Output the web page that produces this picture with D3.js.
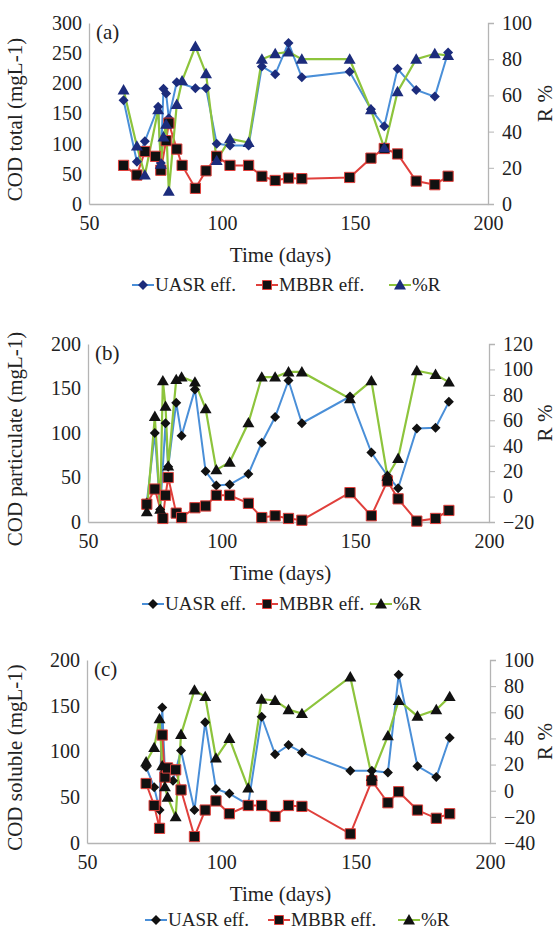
<!DOCTYPE html>
<html>
<head>
<meta charset="utf-8">
<script src="https://cdn.jsdelivr.net/npm/d3@7"></script>
<style>
  body { margin: 0; background: #fff; }
  svg text { font-family: 'Liberation Serif', 'Times New Roman', serif; fill: #222; }
</style>
</head>
<body>
<div id="chart"></div>
<script>
// panel (a) COD total
var aDaysU = [63, 68, 71, 76, 77, 78, 79, 80, 83, 90, 94, 98, 103, 110, 115, 120, 125, 130, 148, 156, 161, 166, 173, 180, 185];
var aUasr  = [172, 70, 104, 161, 68, 191, 183, 142, 202, 192, 192, 100, 97, 97, 228, 215, 267, 210, 219, 157, 129, 224, 189, 178, 251];
var aDaysM = [63, 68, 71, 75, 77, 79, 80, 83, 85, 90, 94, 98, 103, 110, 115, 120, 125, 130, 148, 156, 161, 166, 173, 180, 185];
var aMbbr  = [64, 48, 87, 79, 56, 105, 134, 91, 64, 26, 55, 79, 64, 64, 46, 39, 43, 42, 44, 76, 92, 83, 38, 32, 46];
var aDaysR = [63, 68, 71, 76, 77, 78, 79, 80, 83, 85, 90, 94, 98, 103, 110, 115, 120, 125, 130, 148, 156, 161, 166, 173, 180, 185];
var aR     = [63, 32, 16, 52, 22, 37, 44, 7, 55, 68, 87, 72, 24, 36, 34, 80, 83, 84, 80, 80, 52, 31, 62, 80, 83, 82];

// panel (b) COD particulate
var bDaysU = [72, 75, 77, 79, 80, 83, 85, 90, 94, 98, 103, 110, 115, 120, 125, 130, 148, 156, 162, 166, 173, 180, 185];
var bUasr  = [22, 100, 14, 111, 62, 134, 97, 149, 57, 41, 42, 54, 89, 118, 159, 111, 141, 78, 52, 38, 105, 106, 135];
var bDaysM = [72, 75, 78, 79, 80, 83, 85, 90, 94, 98, 103, 110, 115, 120, 125, 130, 148, 156, 162, 166, 173, 180, 185];
var bMbbr  = [20, 37, 4, 30, 50, 10, 5, 16, 18, 30, 30, 21, 5, 7, 4, 2, 33, 7, 46, 26, 1, 4, 13];
var bDaysR = [72, 75, 77, 78, 79, 80, 83, 85, 90, 94, 98, 103, 110, 115, 120, 125, 130, 148, 156, 162, 166, 173, 180, 185];
var bR     = [-12, 63, -10, 91, 71, 24, 92, 94, 90, 69, 21, 27, 58, 94, 94, 98, 98, 77, 91, 16, 30, 99, 96, 90];

// panel (c) COD soluble
var cDaysU = [72, 75, 77, 78, 79, 82, 85, 90, 94, 98, 103, 110, 115, 120, 125, 130, 148, 156, 162, 166, 173, 180, 185];
var cUasr  = [83, 61, 36, 148, 78, 68, 101, 36, 132, 59, 54, 42, 138, 97, 107, 99, 79, 79, 77, 184, 84, 72, 115];
var cDaysM = [72, 75, 77, 78, 79, 80, 83, 85, 90, 94, 98, 103, 110, 115, 120, 125, 130, 148, 156, 162, 166, 173, 180, 185];
var cMbbr  = [65, 41, 16, 118, 72, 82, 80, 58, 7, 36, 46, 32, 41, 41, 29, 41, 40, 10, 68, 44, 56, 36, 27, 32];
var cDaysR = [72, 75, 77, 78, 79, 80, 83, 85, 90, 94, 98, 103, 110, 115, 120, 125, 130, 148, 156, 162, 166, 173, 180, 185];
var cR     = [22, 33, 55, 19, 3, -5, -20, 43, 77, 72, 25, 40, 2, 70, 69, 62, 59, 87, 11, 42, 69, 57, 62, 72];

var xTicks = [50, 100, 150, 200];
var seriesNames = ["UASR eff.", "MBBR eff.", "%R"];

var serif = "'Liberation Serif', 'Times New Roman', serif";

var svg = d3.select("#chart").append("svg")
  .attr("width", 560)
  .attr("height", 932);

svg.append("rect").attr("width", 560).attr("height", 932).attr("fill", "#fff");

var blueLine = "#4a8fd8", redLine = "#e0403c", greenLine = "#8dc43c";

function drawPanel(p) {
  var g = svg.append("g");

  var x = d3.scaleLinear().domain([50, 200]).range([p.left, p.right]);
  var yL = d3.scaleLinear().domain(p.yDomain).range([p.bottom, p.top]);
  var yR = d3.scaleLinear().domain(p.rDomain).range([p.bottom, p.top]);

  // axes
  var xAxis = g.append("g")
    .attr("transform", `translate(0, ${p.bottom})`)
    .call(d3.axisBottom(x).tickValues(xTicks).tickSize(0).tickPadding(12));
  var leftAxis = g.append("g")
    .attr("transform", `translate(${p.left}, 0)`)
    .call(d3.axisLeft(yL).tickValues(p.yTicks).tickSize(0).tickPadding(7));
  var rightAxis = g.append("g")
    .attr("transform", `translate(${p.right}, 0)`)
    .call(d3.axisRight(yR).tickValues(p.rTicks).tickSize(6).tickPadding(8));

  [xAxis, leftAxis, rightAxis].forEach(function(a) {
    a.attr("font-family", serif);
    a.select(".domain").attr("stroke", "#b4b4b4").attr("stroke-width", 1.3);
    a.selectAll(".tick line").attr("stroke", "#b4b4b4");
    a.selectAll(".tick text")
      .style("font-family", serif)
      .style("font-size", "20px")
      .attr("fill", "#222");
  });

  // series
  var uasr = p.daysU.map((d, i) => [d, p.uasr[i]]);
  var mbbr = p.daysM.map((d, i) => [d, p.mbbr[i]]);
  var rr = p.daysR.map((d, i) => [d, p.r[i]]);

  var lineL = d3.line().x(d => x(d[0])).y(d => yL(d[1]));
  var lineR = d3.line().x(d => x(d[0])).y(d => yR(d[1]));

  g.append("path").datum(uasr).attr("d", lineL)
    .attr("fill", "none").attr("stroke", blueLine).attr("stroke-width", 2);
  g.append("path").datum(mbbr).attr("d", lineL)
    .attr("fill", "none").attr("stroke", redLine).attr("stroke-width", 2);
  g.append("path").datum(rr).attr("d", lineR)
    .attr("fill", "none").attr("stroke", greenLine).attr("stroke-width", 2.2);

  // diamond = square turned 45 degrees (d3.symbolDiamond is too narrow)
  var diamond = d3.symbol().type(d3.symbolSquare).size(50);
  var square = d3.symbol().type(d3.symbolSquare).size(105);
  var tri = d3.symbol().type(d3.symbolTriangle).size(62);

  g.selectAll(".mU").data(uasr).enter().append("path")
    .attr("d", diamond)
    .attr("transform", d => `translate(${x(d[0])}, ${yL(d[1])}) rotate(45)`)
    .attr("fill", p.markColor);
  g.selectAll(".mM").data(mbbr).enter().append("path")
    .attr("d", square)
    .attr("transform", d => `translate(${x(d[0])}, ${yL(d[1])})`)
    .attr("fill", "#111").attr("stroke", redLine).attr("stroke-width", 1);
  g.selectAll(".mR").data(rr).enter().append("path")
    .attr("d", tri)
    .attr("transform", d => `translate(${x(d[0])}, ${yR(d[1]) + 1})`)
    .attr("fill", p.markColor);

  // panel label
  g.append("text")
    .attr("x", p.left + 7).attr("y", p.top + 16)
    .style("font-family", serif)
    .style("font-size", "21px")
    .text(p.label);

  // axis titles
  g.append("text")
    .attr("transform", `translate(${p.yTitleX}, ${(p.top + p.bottom) / 2 + 6}) rotate(-90)`)
    .attr("text-anchor", "middle")
    .style("font-family", serif)
    .style("font-size", "21px")
    .text(p.yTitle);

  g.append("text")
    .attr("transform", `translate(545, ${(p.top + p.bottom) / 2 - 10}) rotate(-90)`)
    .attr("text-anchor", "middle")
    .attr("dy", "0.35em")
    .style("font-family", serif)
    .style("font-size", "21px")
    .text("R %");

  g.append("text")
    .attr("x", (p.left + p.right) / 2 - 8).attr("y", p.bottom + 58)
    .attr("text-anchor", "middle")
    .style("font-family", serif)
    .style("font-size", "21px")
    .text("Time (days)");

  // legend
  var ly = p.legendY;
  var colors = [blueLine, redLine, greenLine];
  var marks = [diamond, d3.symbol().type(d3.symbolSquare).size(80), tri];
  p.legendX.forEach(function(lx, i) {
    g.append("line")
      .attr("x1", lx).attr("x2", lx + 22)
      .attr("y1", ly).attr("y2", ly)
      .attr("stroke", colors[i]).attr("stroke-width", 2);
    var m = g.append("path")
      .attr("d", marks[i])
      .attr("transform", `translate(${lx + 11}, ${ly + (i === 2 ? 1 : 0)})` + (i === 0 ? " rotate(45)" : ""))
      .attr("fill", i === 1 ? "#111" : p.markColor);
    if (i === 1) m.attr("stroke", redLine);
    g.append("text")
      .attr("x", lx + 23).attr("y", ly + 6)
      .style("font-family", serif)
      .style("font-size", "19px")
      .text(seriesNames[i]);
  });
}

drawPanel({
  label: "(a)", yTitle: "COD total (mgL-1)",
  left: 89, right: 488, top: 23, bottom: 204,
  yDomain: [0, 300], yTicks: [0, 50, 100, 150, 200, 250, 300],
  rDomain: [0, 100], rTicks: [0, 20, 40, 60, 80, 100],
  daysU: aDaysU, uasr: aUasr, daysM: aDaysM, mbbr: aMbbr, daysR: aDaysR, r: aR,
  markColor: "#1c2c7c", yTitleX: 22,
  legendY: 285, legendX: [132, 256, 389]
});

drawPanel({
  label: "(b)", yTitle: "COD particulate (mgL-1)",
  left: 88, right: 489, top: 344, bottom: 522,
  yDomain: [0, 200], yTicks: [0, 50, 100, 150, 200],
  rDomain: [-20, 120], rTicks: [-20, 0, 20, 40, 60, 80, 100, 120],
  daysU: bDaysU, uasr: bUasr, daysM: bDaysM, mbbr: bMbbr, daysR: bDaysR, r: bR,
  markColor: "#111", yTitleX: 22,
  legendY: 604, legendX: [142, 256, 370]
});

drawPanel({
  label: "(c)", yTitle: "COD soluble (mgL-1)",
  left: 87, right: 490, top: 660, bottom: 843,
  yDomain: [0, 200], yTicks: [0, 50, 100, 150, 200],
  rDomain: [-40, 100], rTicks: [-40, -20, 0, 20, 40, 60, 80, 100],
  daysU: cDaysU, uasr: cUasr, daysM: cDaysM, mbbr: cMbbr, daysR: cDaysR, r: cR,
  markColor: "#111", yTitleX: 22,
  legendY: 920, legendX: [145, 268, 398]
});
</script>
</body>
</html>
